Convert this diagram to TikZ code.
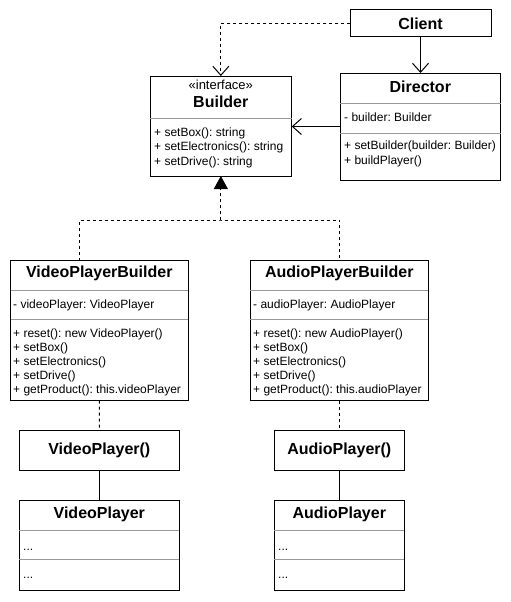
\documentclass[tikz,border=0pt]{standalone}
\usepackage{fontspec}
\setmainfont{Liberation Sans}
\usetikzlibrary{arrows.meta,calc}
\frenchspacing
\tikzset{
  box/.style={draw, line width=1pt, anchor=north west, inner sep=0pt, outer sep=0pt, fill=white},
  titletext/.style={font=\fontsize{16}{18}\selectfont\bfseries, inner sep=0pt},
  stereo/.style={font=\fontsize{13}{15}\selectfont, inner sep=0pt},
  member/.style={font=\fontsize{12}{14}\selectfont, anchor=west, inner sep=0pt, text height=8.5pt, text depth=2.5pt},
  sepline/.style={draw=black!40, line width=1pt},
  dashline/.style={line width=1pt, dash pattern=on 3pt off 3pt},
  dep/.style={dashline, -{Straight Barb[length=9pt,width=16pt]}},
  assoc/.style={line width=1pt, -{Straight Barb[length=9pt,width=16pt]}},
  realize/.style={dashline, -{Triangle[length=13pt,width=14pt]}},
}
\begin{document}
\begin{tikzpicture}[x=1pt,y=-1pt]
\useasboundingbox[fill=white] (0,0) rectangle (511,602);

% Client
\node[box, minimum width=141pt, minimum height=27pt, font=\fontsize{16}{18}\selectfont\bfseries] (client) at (350,10) {Client};

% Builder
\node[box, minimum width=141.7pt, minimum height=100pt] (builder) at (150,76) {};
\node[stereo] (bst) at (220.8,85) {«interface»};
\node[titletext] (btitle) at (220.8,102) {Builder};
\draw[sepline] (150,118) -- (291.7,118);
\node[member] (bm1) at (154,133) {+ setBox(): string};
\node[member] (bm2) at (154,147) {+ setElectronics(): string};
\node[member] (bm3) at (154,162) {+ setDrive(): string};

% Director
\node[box, minimum width=160.7pt, minimum height=107pt] (director) at (340,73) {};
\node[titletext] (dtitle) at (420.3,87) {Director};
\draw[sepline] (340,103) -- (500.7,103);
\node[member] (df1) at (344,118) {- builder: Builder};
\draw[sepline] (340,133) -- (500.7,133);
\node[member] (dm1) at (344,146) {+ setBuilder(builder: Builder)};
\node[member] (dm2) at (344,161) {+ buildPlayer()};

% VideoPlayerBuilder
\node[box, minimum width=177.3pt, minimum height=140pt] (vpb) at (10.7,260.7) {};
\node[titletext] (vpbtitle) at (99.3,273) {VideoPlayerBuilder};
\draw[sepline] (10.7,290) -- (188,290);
\node[member] (vpbf) at (13,305) {- videoPlayer: VideoPlayer};
\draw[sepline] (10.7,319) -- (188,319);
\node[member] (vpbm1) at (13,334) {+ reset(): new VideoPlayer()};
\node[member] (vpbm2) at (13,348) {+ setBox()};
\node[member] (vpbm3) at (13,362) {+ setElectronics()};
\node[member] (vpbm4) at (13,376) {+ setDrive()};
\node[member] (vpbm5) at (13,390) {+ getProduct(): this.videoPlayer};

% AudioPlayerBuilder
\node[box, minimum width=178pt, minimum height=140pt] (apb) at (250.3,260.7) {};
\node[titletext] (apbtitle) at (339.3,273) {AudioPlayerBuilder};
\draw[sepline] (250.3,290) -- (428.3,290);
\node[member] (apbf) at (253,305) {- audioPlayer: AudioPlayer};
\draw[sepline] (250.3,319) -- (428.3,319);
\node[member] (apbm1) at (253,334) {+ reset(): new AudioPlayer()};
\node[member] (apbm2) at (253,348) {+ setBox()};
\node[member] (apbm3) at (253,362) {+ setElectronics()};
\node[member] (apbm4) at (253,376) {+ setDrive()};
\node[member] (apbm5) at (253,390) {+ getProduct(): this.audioPlayer};

% VideoPlayer() / AudioPlayer()
\node[box, minimum width=160pt, minimum height=40.7pt, font=\fontsize{16}{18}\selectfont\bfseries] (vpc) at (19.3,430) {VideoPlayer()};
\node[box, minimum width=130pt, minimum height=40.7pt, font=\fontsize{16}{18}\selectfont\bfseries] (apc) at (274.3,430) {AudioPlayer()};

% VideoPlayer
\node[box, minimum width=160pt, minimum height=90.7pt] (vp) at (19.3,500) {};
\node[titletext] (vptitle) at (99.3,514) {VideoPlayer};
\draw[sepline] (19.3,530.7) -- (179.3,530.7);
\node[member] (vpf) at (23,547) {...};
\draw[sepline] (19.3,559.3) -- (179.3,559.3);
\node[member] (vpm) at (23,575.7) {...};

% AudioPlayer
\node[box, minimum width=130pt, minimum height=90.7pt] (ap) at (274.3,500) {};
\node[titletext] (aptitle) at (339.3,514) {AudioPlayer};
\draw[sepline] (274.3,530.7) -- (404.3,530.7);
\node[member] (apf) at (278,547) {...};
\draw[sepline] (274.3,559.3) -- (404.3,559.3);
\node[member] (apm) at (278,575.7) {...};

% connectors
\draw[dep] (client.west) -| (builder.north);
\draw[assoc] (client.south) -- (client.south |- director.north);
\draw[assoc] (director.west) -- (director.west -| builder.east);

\coordinate (junction) at (builder.south |- 0,220);
\coordinate (vpbtop) at ($(vpb.north west)+(68.6,0)$);
\draw[dashline] (vpbtop) |- (junction) -| (apb.north);
\draw[realize] (junction) -- (builder.south);

\draw[dashline] (vpb.south) -- (vpc.north);
\draw[dashline] (apb.south) -- (apc.north);
\draw[line width=1pt] (vpc.south) -- (vp.north);
\draw[line width=1pt] (apc.south) -- (ap.north);
\end{tikzpicture}
\end{document}
